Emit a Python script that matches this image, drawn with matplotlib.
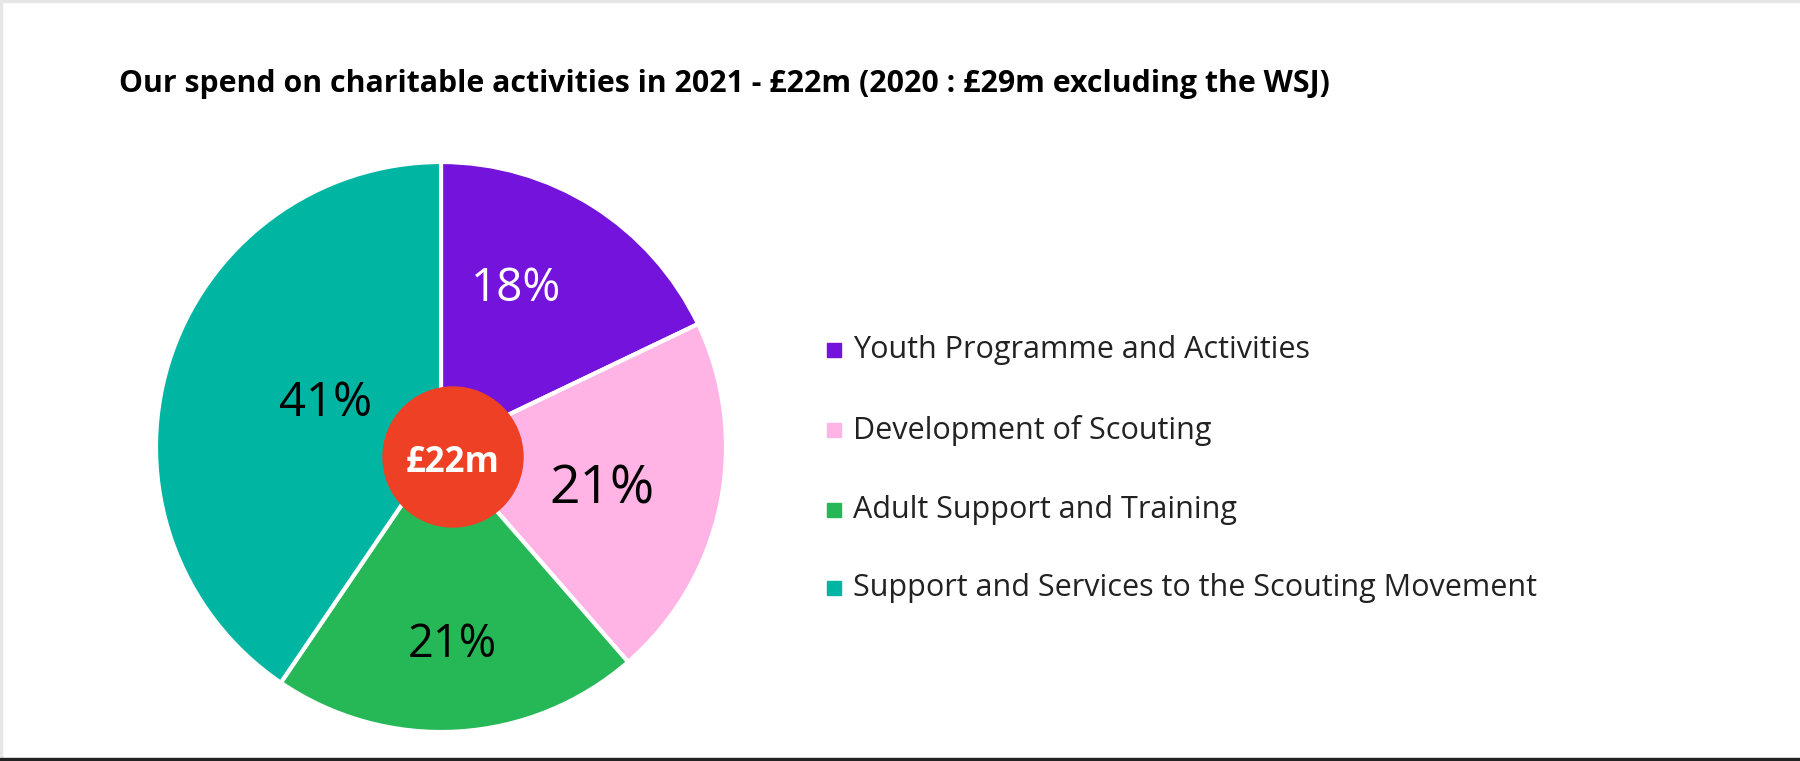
import matplotlib
matplotlib.use("Agg")
import numpy as np
import matplotlib.pyplot as plt
from matplotlib.patches import Circle, Rectangle

# Spend on charitable activities 2021 (share of £22m)
categories = [
    "Youth Programme and Activities",
    "Development of Scouting",
    "Adult Support and Training",
    "Support and Services to the Scouting Movement",
]
shares = [17.9, 20.7, 20.9, 40.5]
pct_labels = ["18%", "21%", "21%", "41%"]
total_label = "£22m"
title = "Our spend on charitable activities in 2021 - £22m (2020 : £29m excluding the WSJ)"

colors = ["#7413DC", "#FFB4E5", "#26B757", "#00B6A3"]
label_colors = ["white", "black", "black", "black"]
label_sizes = [33, 38.5, 32.5, 34]
label_dist = [0.63, 0.58, 0.675, 0.44]
label_shift = [-7.5, 1.0, 0.0, 6.0]   # degrees clockwise from slice middle

W, H, DPI = 1800, 761, 100
fig = plt.figure(figsize=(W / DPI, H / DPI), dpi=DPI)
fig.patch.set_facecolor("white")

# pie axes: centre (441, 447) px from top-left, radius 285 px
cx, cy, r = 441, 447, 285
ax = fig.add_axes([(cx - r) / W, (H - cy - r) / H, 2 * r / W, 2 * r / H])
wedges, _ = ax.pie(shares, colors=colors, startangle=90, counterclock=False,
                   radius=1.0, wedgeprops=dict(edgecolor="white", linewidth=3))
ax.set_xlim(-1, 1)
ax.set_ylim(-1, 1)
ax.set_aspect("equal")
ax.axis("off")

for w, lab, col, fs, d, sh in zip(wedges, pct_labels, label_colors, label_sizes,
                                  label_dist, label_shift):
    mid = np.deg2rad((w.theta1 + w.theta2) / 2 - sh)
    ax.text(d * np.cos(mid), d * np.sin(mid), lab, color=col, fontsize=fs,
            ha="center", va="center_baseline", family="Open Sans")

# centre disc with total
ax.add_patch(Circle((12 / r, -10 / r), 70 / r, color="#EE4024", zorder=5))
ax.text(12 / r, -12 / r, total_label, color="white", fontsize=25, fontweight="bold",
        ha="center", va="center_baseline", family="Open Sans", zorder=6)

# title
fig.text(119 / W, 1 - 84 / H, title, fontsize=21.8, fontweight="bold",
         family="Open Sans", ha="left", va="center")

# legend
leg_y = [350, 430, 510, 588]
for name, col, y in zip(categories, colors, leg_y):
    fig.patches.append(Rectangle(((834 - 7) / W, 1 - (y + 7) / H), 14 / W, 14 / H,
                                 transform=fig.transFigure, color=col))
    fig.text(853 / W, 1 - y / H, name, fontsize=22, family="Open Sans",
             color="#222222", ha="left", va="center")

# frame lines
fig.patches.append(Rectangle((0, 1 - 2 / H), 1, 2 / H, transform=fig.transFigure, color="#E6E6E6"))
fig.patches.append(Rectangle((0, 0), 1.5 / W, 1, transform=fig.transFigure, color="#E6E6E6"))
fig.patches.append(Rectangle((0, 0), 1, 3 / H, transform=fig.transFigure, color="#222222"))

fig.savefig("out.png", dpi=DPI, facecolor="white")
